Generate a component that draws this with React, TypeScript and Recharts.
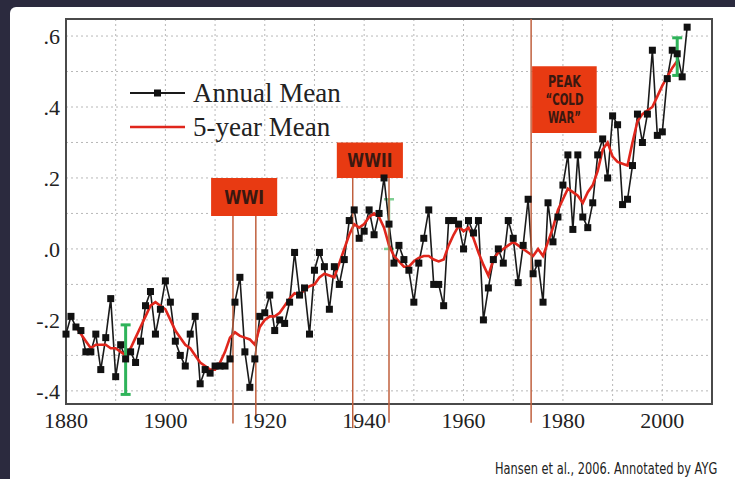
import {
  ComposedChart,
  Line,
  Scatter,
  ErrorBar,
  XAxis,
  YAxis,
  CartesianGrid,
  ReferenceArea,
  ReferenceLine,
} from "recharts";

// global temperature anomaly (°C), annual values from 1880
const firstYear = 1880;
const annualMean = [
  -0.24, -0.19, -0.22, -0.23, -0.29, -0.29, -0.24, -0.34, -0.25, -0.14,
  -0.36, -0.27, -0.31, -0.29, -0.32, -0.26, -0.16, -0.12, -0.24, -0.17,
  -0.09, -0.15, -0.26, -0.3, -0.33, -0.24, -0.19, -0.38, -0.34, -0.35,
  -0.33, -0.33, -0.33, -0.31, -0.15, -0.08, -0.29, -0.39, -0.31, -0.19,
  -0.18, -0.13, -0.23, -0.2, -0.21, -0.15, -0.01, -0.13, -0.11, -0.24,
  -0.06, -0.01, -0.05, -0.17, -0.05, -0.1, -0.03, 0.08, 0.11, 0.03,
  0.05, 0.11, 0.04, 0.1, 0.2, 0.07, -0.04, 0.01, -0.03, -0.06,
  -0.15, -0.04, 0.03, 0.11, -0.1, -0.1, -0.16, 0.08, 0.08, 0.07,
  0.0, 0.08, 0.045, 0.08, -0.2, -0.11, -0.03, 0.0, -0.04, 0.08,
  0.03, -0.095, 0.01, 0.14, -0.07, -0.04, -0.15, 0.13, 0.02, 0.09,
  0.18, 0.265, 0.055, 0.265, 0.09, 0.06, 0.13, 0.265, 0.31, 0.2,
  0.375, 0.35, 0.125, 0.14, 0.235, 0.38, 0.3, 0.38, 0.56, 0.32,
  0.33, 0.48, 0.56, 0.55, 0.485, 0.625,
];

// 5-year running mean, 1882 to 2003
const smoothStart = 1882;
const fiveYearMean = [
  -0.22, -0.24, -0.26, -0.28, -0.27, -0.27, -0.27, -0.28, -0.28, -0.29,
  -0.3, -0.28, -0.25, -0.22, -0.19, -0.16, -0.15, -0.16, -0.17, -0.2,
  -0.23, -0.25, -0.27, -0.28, -0.3, -0.32, -0.33, -0.34, -0.34, -0.32,
  -0.29, -0.25, -0.235, -0.245, -0.25, -0.255, -0.27, -0.22, -0.2, -0.19,
  -0.19, -0.18, -0.16, -0.14, -0.125, -0.13, -0.115, -0.105, -0.1, -0.08,
  -0.07, -0.075, -0.08, -0.04, 0.0, 0.04, 0.07, 0.06, 0.07, 0.09,
  0.1, 0.09, 0.06, 0.01, -0.02, -0.035, -0.05, -0.05, -0.035, -0.025,
  -0.02, -0.02, -0.03, -0.035, -0.03, 0.01, 0.04, 0.065, 0.05, 0.06,
  0.03, -0.01, -0.045, -0.075, -0.03, -0.01, 0.0, 0.01, 0.02, 0.01,
  0.0, -0.01, -0.02, 0.0, -0.02, 0.02, 0.06, 0.11, 0.14, 0.17,
  0.16, 0.15, 0.13, 0.16, 0.18, 0.22, 0.28, 0.3, 0.26, 0.245,
  0.24, 0.235, 0.3, 0.36, 0.38, 0.39, 0.4, 0.43, 0.46, 0.485,
  0.51, 0.53,
];

// uncertainty bars: year, centre, half range
const errorBars = [
  { year: 1892, v: -0.312, err: 0.098 },
  { year: 2003, v: 0.542, err: 0.053 },
];
const faintErrorBars = [{ year: 1945, v: 0.07, err: 0.07 }];

const xTicks = [1880, 1900, 1920, 1940, 1960, 1980, 2000];
const yTicks = [-0.4, -0.2, 0, 0.2, 0.4, 0.6];
const gridYears = [1890, 1900, 1910, 1920, 1930, 1940, 1950, 1960, 1970, 1980, 1990, 2000];
const gridValues = [-0.4, -0.3, -0.2, -0.1, 0, 0.1, 0.2, 0.3, 0.4, 0.5, 0.6];

const data = annualMean.map((annual, i) => {
  const year = firstYear + i;
  const s = year - smoothStart;
  return {
    year,
    annual,
    smooth: s >= 0 && s < fiveYearMean.length ? fiveYearMean[s] : undefined,
  };
});

const fmtY = (v: number) => {
  if (v === 0) return ".0";
  const t = Math.abs(v).toFixed(1).replace(/^0/, "");
  return v < 0 ? `-${t}` : t;
};

const boxFill = "#e83a12";
const boxText = "#3a1810";
const warLine = "#c0603e";
const boxFont = "'DejaVu Sans', sans-serif";
const serif = "'Liberation Serif', 'DejaVu Serif', serif";

const SquareDot = (props: any) => {
  const { cx, cy } = props;
  if (cx == null || cy == null) return null;
  return <rect x={cx - 3.5} y={cy - 3.5} width={7} height={7} fill="#111" />;
};

// condensed box caption: each line squeezed to a given width
const BoxLabel = (props: any) => {
  const { viewBox, lines, widths, size, gap } = props;
  const cx = viewBox.x + viewBox.width / 2;
  const cy = viewBox.y + viewBox.height / 2;
  const top = cy - ((lines.length - 1) * gap) / 2;
  return (
    <g>
      {lines.map((l: string, i: number) => (
        <text
          key={l}
          x={cx}
          y={top + i * gap}
          dy="0.36em"
          textAnchor="middle"
          fontFamily={boxFont}
          fontWeight="bold"
          fontSize={size}
          fill={boxText}
          textLength={widths[i]}
          lengthAdjust="spacingAndGlyphs"
        >
          {l}
        </text>
      ))}
    </g>
  );
};

export default function App() {
  return (
    <div
      style={{
        position: "absolute",
        left: 0,
        top: 0,
        width: 735,
        height: 479,
        background: "#2b2a3e",
        overflow: "hidden",
      }}
    >
      <div
        style={{
          position: "absolute",
          left: 10,
          top: 7,
          right: 0,
          bottom: 0,
          background: "#ffffff",
          borderTopLeftRadius: 6,
        }}
      />
      <div style={{ position: "absolute", left: 0, top: 0 }}>
        <ComposedChart
          width={735}
          height={479}
          data={data}
          margin={{ top: 19, right: 23, bottom: 45, left: 10 }}
        >
          <CartesianGrid
            stroke="#b8b8b8"
            strokeDasharray="2 3"
            verticalValues={gridYears}
            horizontalValues={gridValues}
          />
          <XAxis
            dataKey="year"
            type="number"
            domain={[1880, 2010]}
            ticks={xTicks}
            height={30}
            axisLine={false}
            tickLine={false}
            tickSize={6}
            tickMargin={2}
            tick={{ fontSize: 22, fill: "#222", fontFamily: serif }}
          />
          <YAxis
            type="number"
            domain={[-0.437, 0.648]}
            ticks={yTicks}
            width={56}
            axisLine={false}
            tickLine={false}
            tickSize={6}
            tickMargin={0}
            tickFormatter={fmtY}
            tick={{ fontSize: 22, fill: "#222", fontFamily: serif }}
          />

          <Scatter
            data={faintErrorBars}
            dataKey="v"
            shape={() => <g />}
            isAnimationActive={false}
          >
            <ErrorBar
              dataKey="err"
              direction="y"
              width={5}
              stroke="#7fcf93"
              strokeWidth={2.5}
              isAnimationActive={false}
            />
          </Scatter>

          <Line
            dataKey="annual"
            stroke="#1a1a1a"
            strokeWidth={1.6}
            dot={<SquareDot />}
            activeDot={false}
            isAnimationActive={false}
          />
          <Line
            dataKey="smooth"
            stroke="#e0261c"
            strokeWidth={2.6}
            dot={false}
            activeDot={false}
            isAnimationActive={false}
          />

          <Scatter
            data={errorBars}
            dataKey="v"
            shape={() => <g />}
            isAnimationActive={false}
          >
            <ErrorBar
              dataKey="err"
              direction="y"
              width={5}
              stroke="#2fb35a"
              strokeWidth={3}
              isAnimationActive={false}
            />
          </Scatter>

          {/* plot frame */}
          <ReferenceArea
            x1={1880}
            x2={2010}
            y1={-0.437}
            y2={0.648}
            fill="none"
            stroke="#4a4a4a"
            strokeWidth={2}
            ifOverflow="visible"
          />

          {/* war markers */}
          <ReferenceLine
            segment={[{ x: 1913.6, y: 0.093 }, { x: 1913.6, y: -0.492 }]}
            stroke={warLine}
            strokeWidth={1.5}
            ifOverflow="visible"
          />
          <ReferenceLine
            segment={[{ x: 1918.2, y: 0.093 }, { x: 1918.2, y: -0.47 }]}
            stroke={warLine}
            strokeWidth={1.5}
            ifOverflow="visible"
          />
          <ReferenceLine
            segment={[{ x: 1937.7, y: 0.2 }, { x: 1937.7, y: -0.505 }]}
            stroke={warLine}
            strokeWidth={1.5}
            ifOverflow="visible"
          />
          <ReferenceLine
            segment={[{ x: 1945, y: 0.2 }, { x: 1945, y: -0.49 }]}
            stroke={warLine}
            strokeWidth={1.5}
            ifOverflow="visible"
          />
          <ReferenceLine
            segment={[{ x: 1973.6, y: 0.648 }, { x: 1973.6, y: -0.49 }]}
            stroke={warLine}
            strokeWidth={1.5}
            ifOverflow="visible"
          />

          <ReferenceArea
            x1={1909.2}
            x2={1922.5}
            y1={0.093}
            y2={0.2}
            fill={boxFill}
            fillOpacity={1}
            ifOverflow="visible"
            label={<BoxLabel lines={["WWI"]} widths={[40]} size={19} gap={0} />}
          />
          <ReferenceArea
            x1={1934.5}
            x2={1947.8}
            y1={0.2}
            y2={0.3}
            fill={boxFill}
            fillOpacity={1}
            ifOverflow="visible"
            label={<BoxLabel lines={["WWII"]} widths={[45]} size={19} gap={0} />}
          />
          <ReferenceArea
            x1={1973.8}
            x2={1986.8}
            y1={0.327}
            y2={0.515}
            fill={boxFill}
            fillOpacity={1}
            ifOverflow="visible"
            label={
              <BoxLabel
                lines={["PEAK", "\u201cCOLD", "WAR\u201d"]}
                widths={[33, 38, 33]}
                size={16}
                gap={18}
              />
            }
          />
        </ComposedChart>
      </div>

      {/* legend */}
      <div
        style={{
          position: "absolute",
          left: 128,
          top: 76,
          fontFamily: serif,
          fontSize: 27,
          color: "#222",
          lineHeight: "34px",
        }}
      >
        <div style={{ display: "flex", alignItems: "center" }}>
          <svg width={60} height={34}>
            <line x1={2} y1={17} x2={57} y2={17} stroke="#1a1a1a" strokeWidth={2} />
            <rect x={26} y={13.5} width={7} height={7} fill="#111" />
          </svg>
          <span style={{ marginLeft: 5 }}>Annual Mean</span>
        </div>
        <div style={{ display: "flex", alignItems: "center" }}>
          <svg width={60} height={34}>
            <line x1={2} y1={17} x2={57} y2={17} stroke="#e0261c" strokeWidth={2.6} />
          </svg>
          <span style={{ marginLeft: 5 }}>5-year Mean</span>
        </div>
      </div>

      {/* source note, horizontally condensed */}
      <div
        style={{
          position: "absolute",
          left: 495,
          top: 460,
          fontFamily: boxFont,
          fontSize: 15,
          lineHeight: "18px",
          color: "#222",
          whiteSpace: "nowrap",
          transform: "scaleX(0.76)",
          transformOrigin: "0 0",
        }}
      >
        Hansen et al., 2006. Annotated by AYG
      </div>
    </div>
  );
}
